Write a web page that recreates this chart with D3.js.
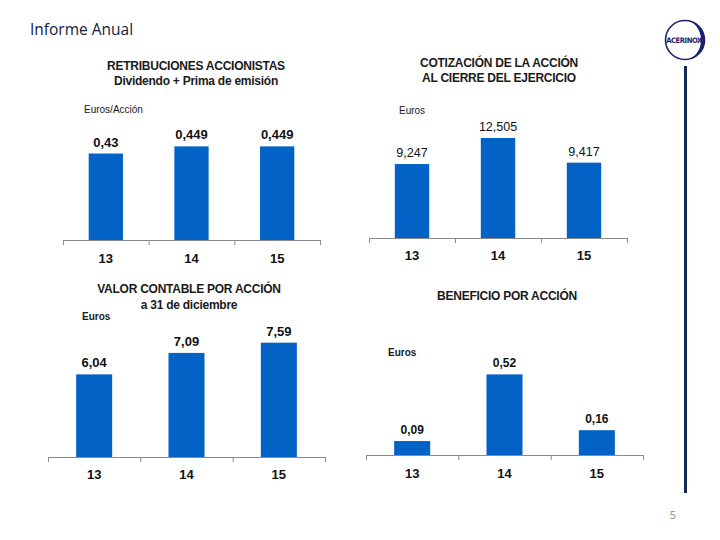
<!DOCTYPE html>
<html>
<head>
<meta charset="utf-8">
<script src="https://cdn.jsdelivr.net/npm/d3@7"></script>
<style>
  html, body { margin: 0; padding: 0; background: #fff; }
  svg { display: block; }
</style>
</head>
<body>
<svg id="chart" width="720" height="540"></svg>
<script>
// ---- Data ----
const categories = ["13", "14", "15"];

const retribucionesValues = [0.43, 0.449, 0.449];
const retribucionesLabels = ["0,43", "0,449", "0,449"];

const cotizacionValues = [9.247, 12.505, 9.417];
const cotizacionLabels = ["9,247", "12,505", "9,417"];

const valorContableValues = [6.04, 7.09, 7.59];
const valorContableLabels = ["6,04", "7,09", "7,59"];

const beneficioValues = [0.09, 0.52, 0.16];
const beneficioLabels = ["0,09", "0,52", "0,16"];

const pageTitle = "Informe Anual";
const pageNumber = "5";

// ---- Panels (layout) ----
const panels = [
  { values: retribucionesValues, labels: retribucionesLabels,
    titles: ["RETRIBUCIONES ACCIONISTAS", "Dividendo + Prima de emisión"], titleX: 196, titleY: [70, 85],
    unit: "Euros/Acción", unitX: 84, unitY: 113, unitBold: false,
    x0: 63, x1: 320, axisY: 240, yDomain: [0.2, 0.5], yTop: 127.2, pad: 0.6,
    labelBold: true, labelSize: 13, catY: 263 },
  { values: cotizacionValues, labels: cotizacionLabels,
    titles: ["COTIZACIÓN DE LA ACCIÓN", "AL CIERRE DEL EJERCICIO"], titleX: 499, titleY: [67, 82],
    unit: "Euros", unitX: 399, unitY: 114, unitBold: false,
    x0: 369, x1: 627, axisY: 238, yDomain: [0, 14], yTop: 126, pad: 0.6,
    labelBold: false, labelSize: 12.5, catY: 260 },
  { values: valorContableValues, labels: valorContableLabels,
    titles: ["VALOR CONTABLE POR ACCIÓN", "a 31 de diciembre"], titleX: 189, titleY: [293, 309],
    unit: "Euros", unitX: 82, unitY: 320, unitBold: true,
    x0: 48, x1: 325, axisY: 457, yDomain: [2, 8], yTop: 334.3, pad: 0.61,
    labelBold: true, labelSize: 13, catY: 479 },
  { values: beneficioValues, labels: beneficioLabels,
    titles: ["BENEFICIO POR ACCIÓN"], titleX: 507, titleY: [300],
    unit: "Euros", unitX: 388, unitY: 356, unitBold: true,
    x0: 366, x1: 643, axisY: 455, yDomain: [0, 0.6], yTop: 362, pad: 0.61,
    labelBold: true, labelSize: 12, catY: 478 }
];

const barColor = "#0262c6";
const font = "'Liberation Sans', Arial, sans-serif";
const svg = d3.select("#chart");

// Header
svg.append("text")
  .attr("x", 30).attr("y", 35)
  .attr("font-family", "'Open Sans', sans-serif")
  .attr("font-size", 15.5)
  .attr("fill", "#12203f")
  .text(pageTitle);

// Logo
const logo = svg.append("g").attr("transform", "translate(685,40)");
logo.append("circle").attr("r", 19.5).attr("fill", "none").attr("stroke", "#1a2170").attr("stroke-width", 1.6);
logo.append("path")
  .attr("d", "M0,-19.5 A19.5,19.5 0 0 1 0,19.5 A16,19.5 0 0 0 0,-19.5 Z")
  .attr("fill", "#1a2170");
logo.append("text")
  .attr("x", -1).attr("y", 3)
  .attr("text-anchor", "middle")
  .attr("font-family", "'DejaVu Sans Condensed', 'Liberation Sans Narrow', sans-serif")
  .attr("font-weight", "bold")
  .attr("font-size", 7.5)
  .attr("letter-spacing", -0.4)
  .attr("fill", "#1a2170")
  .text("ACERINOX");

// Vertical rule
svg.append("line")
  .attr("x1", 685.5).attr("x2", 685.5).attr("y1", 66).attr("y2", 493)
  .attr("stroke", "#102a55").attr("stroke-width", 3);

// Page number
svg.append("text")
  .attr("x", 673).attr("y", 519)
  .attr("text-anchor", "middle")
  .attr("font-family", "'Open Sans', sans-serif")
  .attr("font-size", 11)
  .attr("fill", "#888")
  .text(pageNumber);

// Panels
panels.forEach(p => {
  const g = svg.append("g");
  const x = d3.scaleBand().domain(categories).range([p.x0, p.x1])
    .paddingInner(p.pad).paddingOuter(p.pad / 2);
  const y = d3.scaleLinear().domain(p.yDomain).range([p.axisY, p.yTop]);

  // titles
  p.titles.forEach((t, i) => {
    g.append("text")
      .attr("x", p.titleX).attr("y", p.titleY[i])
      .attr("text-anchor", "middle")
      .attr("font-family", font)
      .attr("font-weight", "bold")
      .attr("font-size", 12)
      .attr("letter-spacing", -0.25)
      .attr("fill", "#1a1a1a")
      .text(t);
  });

  // unit label
  g.append("text")
    .attr("x", p.unitX).attr("y", p.unitY)
    .attr("font-family", font)
    .attr("font-weight", p.unitBold ? "bold" : "normal")
    .attr("font-size", 10)
    .attr("fill", "#1a1a1a")
    .text(p.unit);

  // bars
  const data = categories.map((c, i) => ({ c, v: p.values[i], l: p.labels[i] }));
  g.selectAll("rect.bar").data(data).join("rect")
    .attr("class", "bar")
    .attr("x", d => x(d.c))
    .attr("width", x.bandwidth())
    .attr("y", d => y(d.v))
    .attr("height", d => y(p.yDomain[0]) - y(d.v))
    .attr("fill", barColor);

  // value labels
  g.selectAll("text.val").data(data).join("text")
    .attr("class", "val")
    .attr("x", d => x(d.c) + x.bandwidth() / 2)
    .attr("y", d => y(d.v) - 7)
    .attr("text-anchor", "middle")
    .attr("font-family", font)
    .attr("font-weight", p.labelBold ? "bold" : "normal")
    .attr("font-size", p.labelSize)
    .attr("fill", "#111")
    .text(d => d.l);

  // axis line and ticks
  g.append("line")
    .attr("x1", p.x0).attr("x2", p.x1).attr("y1", p.axisY + 0.5).attr("y2", p.axisY + 0.5)
    .attr("stroke", "#8a8a8a").attr("stroke-width", 1.2);
  const step = x.step();
  const tickPos = d3.range(categories.length + 1).map(i => p.x0 + i * step);
  g.selectAll("line.tick").data(tickPos).join("line")
    .attr("class", "tick")
    .attr("x1", d => d + 0.5).attr("x2", d => d + 0.5)
    .attr("y1", p.axisY).attr("y2", p.axisY + 5)
    .attr("stroke", "#8a8a8a");

  // category labels
  g.selectAll("text.cat").data(categories).join("text")
    .attr("class", "cat")
    .attr("x", d => x(d) + x.bandwidth() / 2)
    .attr("y", p.catY)
    .attr("text-anchor", "middle")
    .attr("font-family", font)
    .attr("font-weight", "bold")
    .attr("font-size", 13)
    .attr("fill", "#111")
    .text(d => d);
});
</script>
</body>
</html>
